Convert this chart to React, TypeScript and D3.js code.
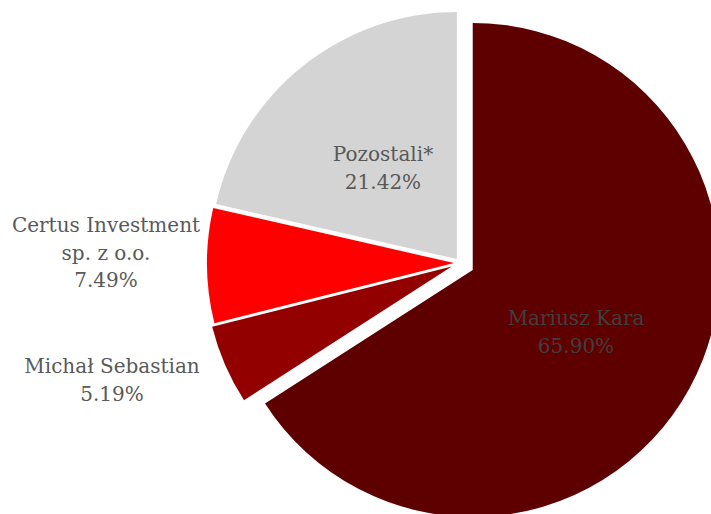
import React from "react";
import * as d3 from "d3";

const labels = ["Mariusz Kara", "Michał Sebastian", "Certus Investment sp. z o.o.", "Pozostali*"];
const values = [65.9, 5.19, 7.49, 21.42];
const colors = ["#5f0000", "#930000", "#ff0000", "#d4d4d4"];
const labelLines: string[][] = [["Mariusz Kara"], ["Michał Sebastian"], ["Certus Investment", "sp. z o.o."], ["Pozostali*"]];
const labelPos: [number, number][] = [[576, 325], [112, 373], [106, 232], [383, 161]];
const labelColors = ["#3f3f3f", "#595959", "#595959", "#595959"];
const explodeOffsets = [14.5, 9, 6, 5];

export default function App() {
  const W = 711, H = 514;
  const cx = 460, cy = 263, R = 247;
  const pie = d3.pie<number>().sort(null).startAngle(0).endAngle(2 * Math.PI);
  const arcs = pie(values);
  const arc = d3.arc<d3.PieArcDatum<number>>().innerRadius(0).outerRadius(R);
  const fmt = (v: number) => v.toFixed(2) + "%";
  return (
    <svg width={W} height={H} style={{ position: "absolute", left: 0, top: 0 }}
      fontFamily="'DejaVu Serif', serif">
      <rect width={W} height={H} fill="#fff" />
      {arcs.map((a, i) => {
        const mid = (a.startAngle + a.endAngle) / 2;
        const e = explodeOffsets[i];
        const dx = Math.sin(mid) * e, dy = -Math.cos(mid) * e;
        return (
          <path key={i} d={arc(a) || ""} fill={colors[i]}
            transform={`translate(${cx + dx},${cy + dy})`} />
        );
      })}
      {labels.map((l, i) => {
        const [x, y] = labelPos[i];
        const lines = [...labelLines[i], fmt(values[i])];
        return (
          <text key={l} x={x} y={y} textAnchor="middle" fontSize={20} fill={labelColors[i]}>
            {lines.map((t, j) => (
              <tspan key={j} x={x} y={y + j * 27.5}>{t}</tspan>
            ))}
          </text>
        );
      })}
    </svg>
  );
}
